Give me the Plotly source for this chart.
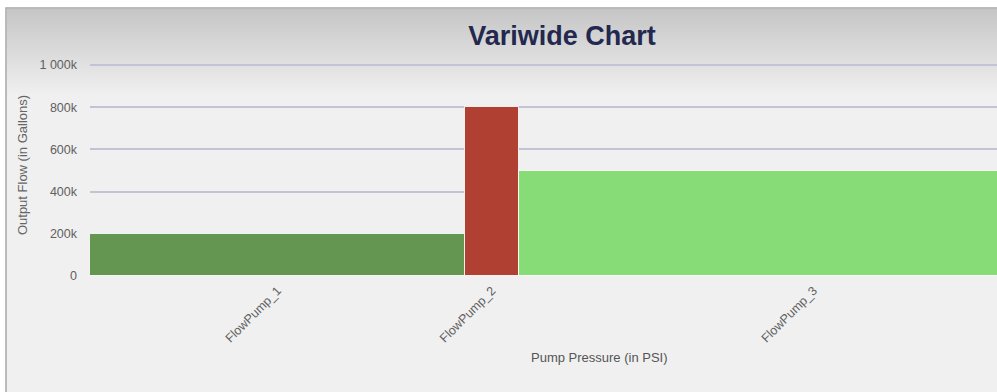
import numpy as np
import plotly.graph_objects as go

# Variwide data: bar width = pump pressure, bar height = output flow
pumps = ["FlowPump_1", "FlowPump_2", "FlowPump_3"]
pressure_psi = [70, 10, 110]
output_flow = [200000, 800000, 500000]
bar_colors = ["#659651", "#b04032", "#88dc77"]

y_tick_values = [0, 200000, 400000, 600000, 800000, 1000000]
y_tick_labels = ["0", "200k", "400k", "600k", "800k", "1 000k"]

# Figure geometry (px)
W, H = 997, 392
M_L, M_R, M_T, M_B = 90, 0, 54, 116
plot_w = W - M_L - M_R
plot_h = H - M_T - M_B

widths = np.array(pressure_psi, dtype=float)
lefts = np.concatenate([[0.0], np.cumsum(widths)[:-1]])
centers = lefts + widths / 2
total_width = float(widths.sum())


def px_x(px):
    return (px - M_L) / plot_w


def px_y(py):
    return (H - M_B - py) / plot_h


FONT = "Liberation Sans, Arial, Helvetica, sans-serif"

fig = go.Figure()
fig.add_trace(go.Bar(
    x=centers,
    y=output_flow,
    width=widths,
    marker=dict(color=bar_colors, line=dict(color="rgba(255,255,255,0.85)", width=1)),
    hovertext=pumps,
    showlegend=False,
))

shapes = []
# chart frame
shapes.append(dict(
    type="rect", xref="paper", yref="paper", layer="below",
    x0=px_x(6), x1=px_x(1020), y0=px_y(420), y1=px_y(8),
    fillcolor="#f0f0f0", line=dict(color="#a6a6a6", width=1.5),
))
# vertical gradient at the top of the frame
g_top, g_bot = 9, 95
for yy in range(g_top, g_bot):
    v = int(round(198 + (yy - g_top) * (240 - 198) / (g_bot - g_top)))
    shapes.append(dict(
        type="rect", xref="paper", yref="paper", layer="below",
        x0=px_x(7), x1=px_x(1020), y0=px_y(yy + 1), y1=px_y(yy),
        fillcolor=f"rgb({v},{v},{v})", line=dict(width=0),
    ))

# x-axis title, centred under the full width of all bars
annotations = [dict(
    text="Pump Pressure (in PSI)",
    xref="x", x=total_width / 2, xanchor="center",
    yref="paper", y=px_y(357), yanchor="middle",
    showarrow=False, font=dict(family=FONT, size=13, color="#555555"),
)]

fig.update_layout(
    width=W, height=H,
    margin=dict(l=M_L, r=M_R, t=M_T, b=M_B, pad=0),
    paper_bgcolor="white",
    plot_bgcolor="rgba(0,0,0,0)",
    font=dict(family=FONT, color="#666666", size=12),
    shapes=shapes,
    annotations=annotations,
    bargap=0,
    title=dict(
        text="<b>Variwide Chart</b>",
        font=dict(family=FONT, size=27, color="#23284f"),
        x=562 / W, xref="container", xanchor="center",
        y=1 - 36 / H, yref="container", yanchor="middle",
    ),
    xaxis=dict(
        range=[0, plot_w / 5.36],
        tickvals=centers, ticktext=pumps, tickangle=-45,
        tickfont=dict(size=12.5, color="#606060"),
        showgrid=False, zeroline=False, showline=False, ticks="",
        ticklabelstandoff=4,
        fixedrange=True,
    ),
    yaxis=dict(
        range=[0, plot_h / 211 * 1e6],
        tickvals=y_tick_values, ticktext=y_tick_labels,
        tickfont=dict(size=12.5, color="#606060"),
        showgrid=True, gridcolor="#c3c3d6", gridwidth=1.5,
        zeroline=False, showline=False, ticks="",
        ticklabelstandoff=12,
        title=dict(text="Output Flow (in Gallons)", font=dict(size=13, color="#666666"), standoff=8),
        fixedrange=True,
    ),
)

fig.write_html("out.html", config={"displayModeBar": False})
